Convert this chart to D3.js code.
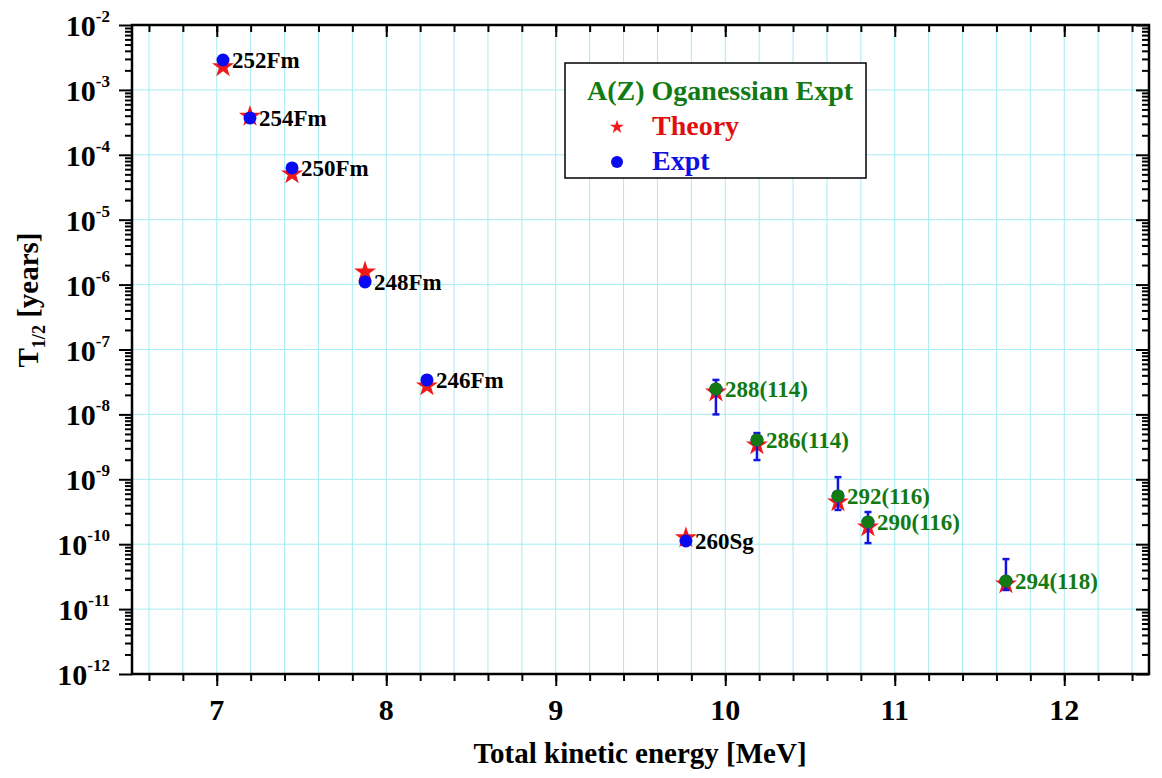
<!DOCTYPE html>
<meta charset="utf-8">
<style>
  body { margin: 0; background: #fff; }
  svg text { font-family: "Liberation Serif", "Times New Roman", serif; font-weight: bold; }
</style>
<svg width="1162" height="778"></svg>
<script src="https://cdn.jsdelivr.net/npm/d3@7"></script>
<script>

// nuclei, energies (MeV), half-lives (years)
var names    = ["252Fm", "254Fm", "250Fm", "248Fm", "246Fm", "260Sg", "288(114)", "286(114)", "292(116)", "290(116)", "294(118)"];
var energy   = [7.037, 7.196, 7.444, 7.875, 8.24, 9.768, 9.945, 10.187, 10.665, 10.842, 11.656];
var theory   = [2.26e-3, 3.9e-4, 5.06e-5, 1.56e-6, 2.74e-8, 1.25e-10, 2.2e-8, 3.38e-9, 4.47e-10, 1.84e-10, 2.44e-11];
var expt     = [2.89e-3, 3.7e-4, 6.27e-5, 1.1e-6, 3.4e-8, 1.12e-10, 2.46e-8, 4.04e-9, 5.54e-10, 2.2e-10, 2.71e-11];
// Oganessian points (green) with error limits
var ogIndex  = [6, 7, 8, 9, 10];
var errHigh  = [3.4e-8, 5.16e-9, 1.08e-9, 3.13e-10, 5.9e-11];
var errLow   = [1.0e-8, 1.98e-9, 3.37e-10, 1.04e-10, 1.97e-11];

var xTicks = [7, 8, 9, 10, 11, 12];
var yExps  = [-2, -3, -4, -5, -6, -7, -8, -9, -10, -11, -12];

var svg = d3.select("svg");
var pLeft = 132, pRight = 1149, pTop = 25, pBottom = 674;

var x = d3.scaleLinear().domain([6.5, 12.5]).range([pLeft, pRight]);
var y = d3.scaleLog().domain([1e-12, 1e-2]).range([pBottom, pTop]);

var gridColor = "#a6ecf2";

// vertical grid every 0.2 MeV
var xMinor = d3.range(6.6, 12.41, 0.2).map(function(d){ return Math.round(d * 10) / 10; });
svg.append("g").selectAll("line").data(xMinor).join("line")
  .attr("x1", d => x(d)).attr("x2", d => x(d))
  .attr("y1", pTop).attr("y2", pBottom)
  .attr("stroke", gridColor).attr("stroke-width", 1);

// horizontal grid at decades
svg.append("g").selectAll("line").data(yExps.slice(1, -1)).join("line")
  .attr("x1", pLeft).attr("x2", pRight)
  .attr("y1", d => y(Math.pow(10, d))).attr("y2", d => y(Math.pow(10, d)))
  .attr("stroke", gridColor).attr("stroke-width", 1);

// axes (ticks via d3 axis generators)
var yMinor = [];
for (var e = -12; e < -2; e++) for (var m = 2; m <= 9; m++) yMinor.push(m * Math.pow(10, e));
var yMajor = yExps.map(d => Math.pow(10, d));

function styleAxis(g) {
  g.select(".domain").remove();
  g.selectAll("line").attr("stroke", "#000").attr("stroke-width", 2);
  g.selectAll("text").remove();
}

svg.append("g").attr("transform", "translate(0," + pBottom + ")")
  .call(d3.axisBottom(x).tickValues(xMinor).tickSize(7)).call(styleAxis);
svg.append("g").attr("transform", "translate(0," + pBottom + ")")
  .call(d3.axisBottom(x).tickValues(xTicks).tickSize(12)).call(styleAxis);
svg.append("g").attr("transform", "translate(0," + pTop + ")")
  .call(d3.axisBottom(x).tickValues(xMinor).tickSize(7)).call(styleAxis);
svg.append("g").attr("transform", "translate(0," + pTop + ")")
  .call(d3.axisBottom(x).tickValues(xTicks).tickSize(12)).call(styleAxis);

svg.append("g").attr("transform", "translate(" + pLeft + ",0)")
  .call(d3.axisLeft(y).tickValues(yMinor).tickSize(7)).call(styleAxis);
svg.append("g").attr("transform", "translate(" + pLeft + ",0)")
  .call(d3.axisLeft(y).tickValues(yMajor).tickSize(13)).call(styleAxis);
svg.append("g").attr("transform", "translate(" + pRight + ",0)")
  .call(d3.axisLeft(y).tickValues(yMinor).tickSize(7)).call(styleAxis);
svg.append("g").attr("transform", "translate(" + pRight + ",0)")
  .call(d3.axisLeft(y).tickValues(yMajor).tickSize(13)).call(styleAxis);

// frame
svg.append("rect").attr("x", pLeft).attr("y", pTop)
  .attr("width", pRight - pLeft).attr("height", pBottom - pTop)
  .attr("fill", "none").attr("stroke", "#000").attr("stroke-width", 2.5);

// x tick labels
svg.append("g").selectAll("text").data(xTicks).join("text")
  .attr("x", d => x(d)).attr("y", pBottom + 46)
  .attr("text-anchor", "middle").attr("font-size", 30)
  .text(d => d);

// y tick labels 10^n
var yl = svg.append("g").selectAll("text").data(yExps).join("text")
  .attr("x", 110).attr("y", d => y(Math.pow(10, d)) + 11)
  .attr("text-anchor", "end").attr("font-size", 30);
yl.append("tspan").text("10");
yl.append("tspan").attr("dy", -14).attr("font-size", 17).text(d => d);

// axis titles
svg.append("text").attr("x", 640).attr("y", 763)
  .attr("text-anchor", "middle").attr("font-size", 29)
  .text("Total kinetic energy [MeV]");

var yt = svg.append("text").attr("transform", "translate(38,300) rotate(-90)")
  .attr("text-anchor", "middle").attr("font-size", 29);
yt.append("tspan").text("T");
yt.append("tspan").attr("dy", 7).attr("font-size", 18).text("1/2");
yt.append("tspan").attr("dy", -7).text(" [years]");

// markers
var star = d3.symbol().type(d3.symbolStar).size(150);
var idx = d3.range(names.length);

svg.append("g").selectAll("path").data(idx).join("path")
  .attr("transform", i => "translate(" + x(energy[i]) + "," + y(theory[i]) + ")")
  .attr("d", star).attr("fill", "#f01818");

svg.append("g").selectAll("circle").data(idx).join("circle")
  .attr("cx", i => x(energy[i])).attr("cy", i => y(expt[i]))
  .attr("r", 6.5).attr("fill", "#0a0af0");

// error bars (blue)
var eb = svg.append("g").attr("stroke", "#1414e0").attr("stroke-width", 2.5);
ogIndex.forEach(function(i, k) {
  var cx = x(energy[i]);
  eb.append("line").attr("x1", cx).attr("x2", cx).attr("y1", y(errHigh[k])).attr("y2", y(errLow[k]));
  eb.append("line").attr("x1", cx - 3.5).attr("x2", cx + 3.5).attr("y1", y(errHigh[k])).attr("y2", y(errHigh[k]));
  eb.append("line").attr("x1", cx - 3.5).attr("x2", cx + 3.5).attr("y1", y(errLow[k])).attr("y2", y(errLow[k]));
});

svg.append("g").selectAll("circle").data(ogIndex).join("circle")
  .attr("cx", i => x(energy[i])).attr("cy", i => y(expt[i]))
  .attr("r", 6.5).attr("fill", "#127a12");

// point labels
svg.append("g").selectAll("text").data(idx).join("text")
  .attr("x", i => x(energy[i]) + 9)
  .attr("y", i => y(expt[i]) + 8)
  .attr("font-size", 23)
  .attr("fill", i => ogIndex.indexOf(i) >= 0 ? "#127a12" : "#000")
  .text(i => names[i]);

// legend
var lg = svg.append("g");
lg.append("rect").attr("x", 565).attr("y", 63).attr("width", 301).attr("height", 115)
  .attr("fill", "#fff").attr("stroke", "#000").attr("stroke-width", 1.5);
lg.append("text").attr("x", 587).attr("y", 100).attr("font-size", 28)
  .attr("fill", "#127a12").text("A(Z) Oganessian Expt");
lg.append("path").attr("transform", "translate(617,127)")
  .attr("d", d3.symbol().type(d3.symbolStar).size(60)).attr("fill", "#f01818");
lg.append("text").attr("x", 652).attr("y", 135).attr("font-size", 28)
  .attr("fill", "#e01010").text("Theory");
lg.append("circle").attr("cx", 617).attr("cy", 162).attr("r", 6).attr("fill", "#0a0af0");
lg.append("text").attr("x", 652).attr("y", 170).attr("font-size", 28)
  .attr("fill", "#1010e0").text("Expt");

</script>
